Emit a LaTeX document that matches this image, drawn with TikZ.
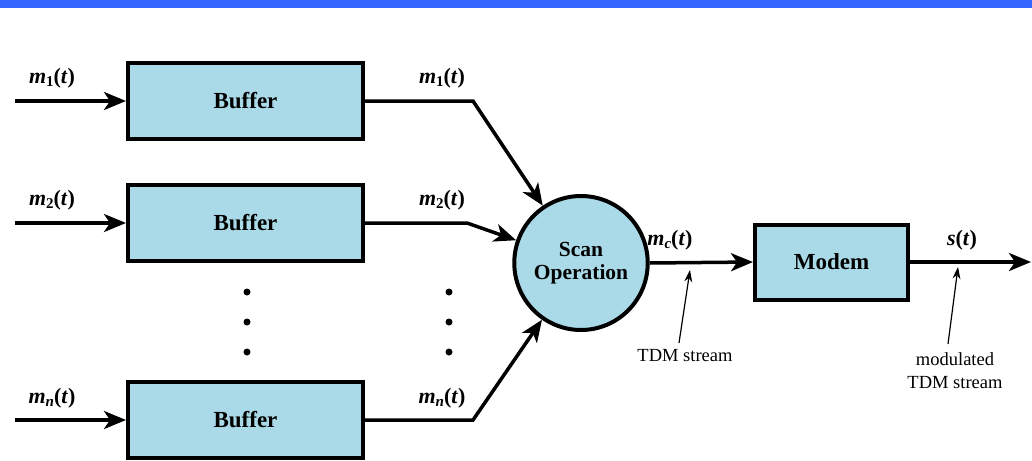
\documentclass[tikz,border=0pt]{standalone}
\usepackage{fontspec}
\setmainfont{Liberation Serif}
\usetikzlibrary{arrows.meta,shapes.geometric}
\definecolor{boxblue}{RGB}{170,218,232}
\definecolor{barblue}{RGB}{51,102,255}
\newcommand{\sigl}[2]{\textbf{\textit{#1}}\raisebox{-0.35ex}{\fontsize{15}{15}\selectfont\textbf{#2}}\textbf{(\textit{t})}}
\begin{document}
\begin{tikzpicture}[x=1pt,y=-1pt,
  blk/.style={draw=black,line width=4pt,fill=boxblue,minimum width=235pt,minimum height=76pt,inner sep=0pt,font=\fontsize{23}{26}\selectfont\bfseries},
  sig/.style={line width=3.5pt,-{Stealth[length=22pt,width=18pt,inset=6pt]}},
  ptr/.style={line width=1.2pt,-{Stealth[length=12pt,width=8pt]}},
  lab/.style={font=\fontsize{22}{24}\selectfont,inner sep=0pt},
  note/.style={font=\fontsize{18.5}{23}\selectfont,inner sep=0pt,align=center},
  dot/.style={circle,fill=black,inner sep=0pt,minimum size=7pt}]
\path[use as bounding box,fill=white] (0,0) rectangle (1032,460);
\fill[barblue] (0,0) rectangle (1032,8);
% buffers
\node[blk] (b1) at (245.5,101) {Buffer};
\node[blk] (b2) at (245.5,223) {Buffer};
\node[blk] (bn) at (245.5,420) {Buffer};
\node[ellipse,draw=black,line width=4pt,fill=boxblue,minimum width=118pt,minimum height=134pt,inner sep=0pt,align=center,font=\fontsize{21.5}{23}\selectfont\bfseries] (scan) at (581,263) {Scan\\Operation};
\node[blk,minimum width=153pt,minimum height=75pt] (modem) at (831.5,262) {Modem};
% inputs
\coordinate (in1) at (15,101);
\coordinate (in2) at (15,223);
\coordinate (inn) at (15,420);
\draw[sig] (in1) -- (b1.west);
\draw[sig] (in2) -- (b2.west);
\draw[sig] (inn) -- (bn.west);
\node[lab] (l1) at (52,78) {\sigl{m}{1}};
\node[lab] (l2) at (52,200) {\sigl{m}{2}};
\node[lab] (ln) at (52,398) {\sigl{m}{\textit{n}}};
% outputs to scan
\coordinate (k1) at (473,101);
\coordinate (k2) at (467,223);
\coordinate (kn) at (473,420);
\draw[sig,line join=miter] (b1.east) -- (k1) -- (scan);
\draw[sig,line join=miter] (b2.east) -- (k2) -- (scan);
\draw[sig,line join=miter] (bn.east) -- (kn) -- (scan);
\node[lab] (r1) at (442,78) {\sigl{m}{1}};
\node[lab] (r2) at (442,200) {\sigl{m}{2}};
\node[lab] (rn) at (442,398) {\sigl{m}{\textit{n}}};
% dots
\node[dot] (d1) at (247,292) {};
\node[dot] (d2) at (247,322) {};
\node[dot] (d3) at (247,352) {};
\node[dot] (e1) at (449,292) {};
\node[dot] (e2) at (449,322) {};
\node[dot] (e3) at (449,352) {};
% scan to modem
\draw[sig] (scan.east) -- (modem.west);
\node[lab] (lc) at (670,240) {\sigl{m}{\textit{c}}};
\coordinate (out) at (1031,262);
\draw[sig] (modem.east) -- (out);
\node[lab] (ls) at (962,240) {\textbf{\textit{s}(\textit{t})}};
% notes
\node[note] (n1) at (685,356) {TDM stream};
\coordinate (p1) at (690,270);
\coordinate (q1) at (679,343);
\draw[ptr] (q1) -- (p1);
\node[note] (n2) at (955,371) {modulated\\TDM stream};
\coordinate (p2) at (958,267);
\coordinate (q2) at (948,344);
\draw[ptr] (q2) -- (p2);
\end{tikzpicture}
\end{document}
